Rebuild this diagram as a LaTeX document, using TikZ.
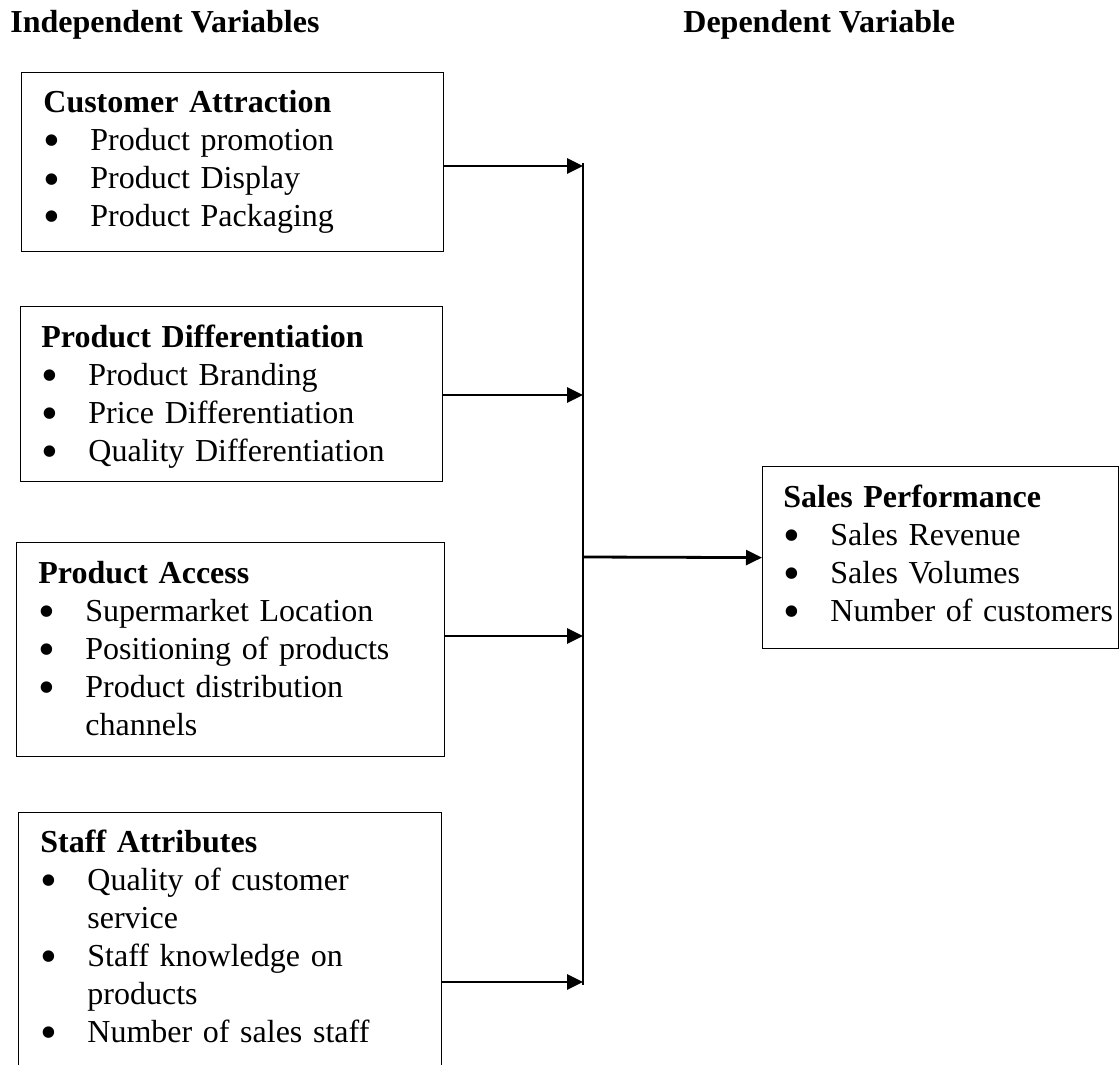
\documentclass[tikz,border=0pt]{standalone}
\usepackage{fontspec}
\usepackage{graphicx}
\setmainfont{Liberation Serif}
\usetikzlibrary{arrows.meta}
\newcommand{\bul}{\makebox[23.5pt][l]{\smash{\raisebox{-3pt}{\scalebox{1.5}{\textbullet}}}}}
\newcommand{\cont}{\hspace*{23.5pt}}
\begin{document}
\begin{tikzpicture}[
  x=0.5pt, y=-0.5pt,
  var/.style={shape=rectangle,draw=black,line width=0.6pt,inner sep=0pt,anchor=north west},
  txt/.style={anchor=base west,inner sep=0pt,text width=190pt,align=left,font=\fontsize{16pt}{19pt}\selectfont},
  head/.style={anchor=base west,inner sep=0pt,font=\fontsize{16pt}{19pt}\selectfont\bfseries},
  flow/.style={draw=black,line width=1.4pt,-{Triangle[length=8pt,width=7.5pt]}},
  bus/.style={draw=black,line width=0.8pt}
]
  \useasboundingbox (0,0) rectangle (1120,1065);

  \node[head] (indep) at (10,33)  {Independent Variables};
  \node[head] (dep)   at (683,33) {Dependent Variable};

  % independent variables
  \node[var,minimum width=211pt,minimum height=89.5pt] (attract) at (21,72) {};
  \node[txt] (attractTxt) at (43,113) {\textbf{Customer Attraction}\\
    \bul Product promotion\\ \bul Product Display\\ \bul Product Packaging};

  \node[var,minimum width=211pt,minimum height=87.5pt] (differ) at (20,306) {};
  \node[txt] (differTxt) at (41,347) {\textbf{Product Differentiation}\\
    \bul Product Branding\\ \bul Price Differentiation\\ \bul Quality Differentiation};

  \node[var,minimum width=214pt,minimum height=107pt] (access) at (16,542) {};
  \node[txt] (accessTxt) at (38,583) {\textbf{Product Access}\\
    \bul Supermarket Location\\ \bul Positioning of products\\
    \bul Product distribution\\ \cont channels};

  \node[var,minimum width=211.5pt,minimum height=134pt] (staff) at (18,812) {};
  \node[txt] (staffTxt) at (40,852) {\textbf{Staff Attributes}\\
    \bul Quality of customer\\ \cont service\\
    \bul Staff knowledge on\\ \cont products\\
    \bul Number of sales staff};

  % dependent variable
  \node[var,minimum width=178pt,minimum height=91pt] (sales) at (762,466) {};
  \node[txt] (salesTxt) at (783,507) {\textbf{Sales Performance}\\
    \bul Sales Revenue\\ \bul Sales Volumes\\ \bul Number of customers};

  % connectors
  \coordinate (busTop) at (583,163);
  \coordinate (busEnd) at (583,985);
  \coordinate (inAttract) at (583,166);
  \coordinate (inDiffer)  at (583,395);
  \coordinate (inAccess)  at (583,636);
  \coordinate (inStaff)   at (583,982);
  \coordinate (outBus)    at (583,557);

  \draw[bus] (busTop) -- (busEnd);
  \draw[flow] (attract.east |- inAttract) -- (inAttract);
  \draw[flow] (differ.east |- inDiffer) -- (inDiffer);
  \draw[flow] (access.east |- inAccess) -- (inAccess);
  \draw[flow] (staff.east |- inStaff) -- (inStaff);
  \draw[flow] (outBus) -- (sales.west);
\end{tikzpicture}
\end{document}
